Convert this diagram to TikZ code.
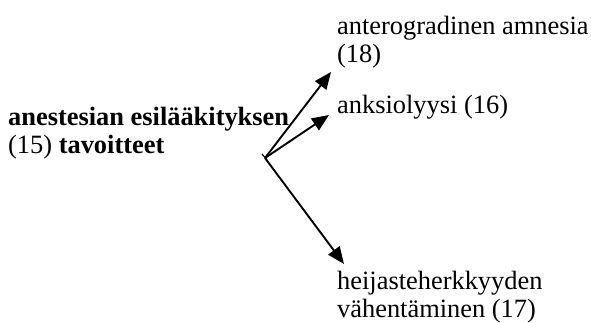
\documentclass[tikz,border=0pt]{standalone}
\usepackage{fontspec}
\setmainfont{Liberation Serif}
\usetikzlibrary{arrows.meta}
\begin{document}
\begin{tikzpicture}[x=1pt,y=1pt,
  lbl/.style={inner sep=0pt, anchor=base west, align=left,
    font=\fontsize{26.4}{28}\selectfont},
  arr/.style={line width=1.9pt, -{Triangle[length=17pt,width=14pt]}}]
\useasboundingbox (0,0) rectangle (591,322);
\node[lbl] (src) at (8,169) {\textbf{anestesian esilääkityksen}\\(15) \textbf{tavoitteet}};
\node[lbl] (t18) at (337,259) {anterogradinen amnesia\\(18)};
\node[lbl] (t16) at (337,209) {anksiolyysi (16)};
\node[lbl] (t17) at (337,5) {heijasteherkkyyden\\vähentäminen (17)};
\coordinate (o) at (265,164);
\coordinate (a18) at (331,250);
\coordinate (a16) at (329,207);
\coordinate (a17) at (344,58);
\coordinate (k1) at (262,168);
\coordinate (k2) at (267,162);
\draw[arr] (o) -- (a18);
\draw[arr] (o) -- (a16);
\draw[arr] (o) -- (a17);
\draw[line width=1.2pt] (k1) -- (k2);
\end{tikzpicture}
\end{document}
